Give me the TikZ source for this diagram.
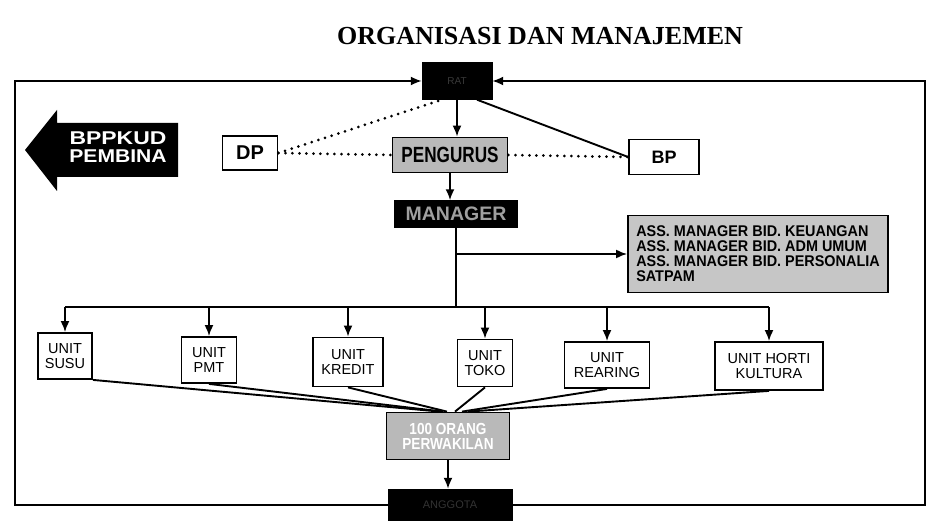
\documentclass[tikz,border=0pt]{standalone}
\usepackage{fontspec}
\setmainfont{Liberation Serif}
\setsansfont{Liberation Sans}
\usetikzlibrary{arrows.meta}
\tikzset{
  link/.style = {line width=1.9pt},
  arr/.style = {link, -{Latex[length=11pt,width=9pt]}},
  dots/.style = {line width=3pt, line cap=round, dash pattern=on 0pt off 7pt},
  unitbox/.style = {draw, line width=1.8pt, align=center, inner sep=0pt, font=\sffamily\fontsize{14.5}{15}\selectfont},
  plainbox/.style = {draw, line width=1.8pt, inner sep=0pt, font=\sffamily\bfseries\fontsize{15}{15}\selectfont},
  darkbox/.style = {fill=black, draw=black, inner sep=0pt, font=\sffamily\bfseries},
  greybox/.style = {fill=gray!55, draw=black, line width=1.8pt, inner sep=0pt, align=center, font=\sffamily\bfseries}
}
\begin{document}
\begin{tikzpicture}[x=1pt, y=-1pt]
\useasboundingbox (0,0) rectangle (928,521);
% title
\node[font=\bfseries\fontsize{26}{26}\selectfont] (title) at (540,36) {ORGANISASI DAN MANAJEMEN};
% top part
\node[darkbox, minimum width=70, minimum height=37, text=gray!45!black, font=\sffamily\fontsize{10}{10}\selectfont] (rat) at (457,81) {RAT};
\node[greybox, minimum width=115, minimum height=35] (pengurus) at (450,155) {\scalebox{0.78}[1]{\fontsize{22}{22}\selectfont PENGURUS}};
\node[darkbox, minimum width=123, minimum height=27, text=gray!75] (manager) at (456,214) {\fontsize{19.5}{19.5}\selectfont MANAGER};
\node[plainbox, minimum width=55, minimum height=34] (dp) at (250,153) {\fontsize{20}{20}\selectfont DP};
\node[plainbox, minimum width=70, minimum height=35] (bp) at (664,157) {\fontsize{18}{18}\selectfont BP};
\node[greybox, fill=gray!45, minimum width=260, minimum height=77, align=left, font=\sffamily\bfseries\fontsize{15.5}{15}\selectfont] (ass) at (758,254)
  {\scalebox{0.93}[1]{ASS. MANAGER BID. KEUANGAN}\\\scalebox{0.93}[1]{ASS. MANAGER BID. ADM UMUM}\\\scalebox{0.93}[1]{ASS. MANAGER BID. PERSONALIA}\\\scalebox{0.93}[1]{SATPAM}};
% pembina arrow
\fill (25,150) -- (57,110) -- (57,123) -- (178,123) -- (178,177) -- (57,177) -- (57,191) -- cycle;
\node[text=white, align=center, font=\sffamily\bfseries\fontsize{18.5}{18}\selectfont] (bppkud) at (118,147) {\scalebox{1.24}[1]{BPPKUD}\\\scalebox{1.14}[1]{PEMBINA}};
% units
\coordinate (bus) at (0,307);
\node[unitbox, minimum width=54, minimum height=46] (susu) at (65,356) {UNIT\\SUSU};
\node[unitbox, minimum width=55, minimum height=46] (pmt) at (209,360) {UNIT\\PMT};
\node[unitbox, minimum width=70, minimum height=49] (kredit) at (348,362) {UNIT\\KREDIT};
\node[unitbox, minimum width=55, minimum height=47] (toko) at (485,363) {UNIT\\TOKO};
\node[unitbox, minimum width=85, minimum height=46] (rearing) at (607,365) {UNIT\\REARING};
\node[unitbox, minimum width=108, minimum height=48] (horti) at (769,366) {UNIT HORTI\\KULTURA};
% bottom part
\node[greybox, minimum width=123, minimum height=47, text=white, font=\sffamily\bfseries\fontsize{16}{15}\selectfont] (perw) at (448,436) {\scalebox{0.85}[1]{100 ORANG}\\\scalebox{0.85}[1]{PERWAKILAN}};
\node[darkbox, minimum width=124, minimum height=32, text=gray!40!black, font=\sffamily\fontsize{11}{11}\selectfont] (anggota) at (450,505) {ANGGOTA};
\coordinate (frameL) at (15,290);
\coordinate (frameR) at (925,290);
% connectors
\draw[arr] (anggota.west) -| (frameL) |- (rat.west);
\draw[arr] (anggota.east) -| (frameR) |- (rat.east);
\draw[arr] (rat.south) -- (rat.south |- pengurus.north);
\draw[arr] (pengurus.south) -- (pengurus.south |- manager.north);
\draw[dots] (dp.east) -- ([xshift=-15pt]rat.south);
\draw[dots] (dp.east) -- (pengurus.west);
\draw[dots] (pengurus.east) -- (bp.west);
\draw[link] ([xshift=20pt]rat.south) -- (bp.west);
\draw[link] (manager.south) -- (manager.south |- bus);
\draw[arr] (manager.south |- ass.west) -- (ass.west);
\draw[link] (susu.north |- bus) -- (horti.north |- bus);
\draw[arr] (susu.north |- bus) -- (susu.north);
\draw[arr] (pmt.north |- bus) -- (pmt.north);
\draw[arr] (kredit.north |- bus) -- (kredit.north);
\draw[arr] (toko.north |- bus) -- (toko.north);
\draw[arr] (rearing.north |- bus) -- (rearing.north);
\draw[arr] (horti.north |- bus) -- (horti.north);
\draw[link] (susu.south east) -- ([xshift=-8pt]perw.north);
\draw[link] (pmt.south) -- ([xshift=-5pt]perw.north);
\draw[link] (kredit.south) -- ([xshift=-1pt]perw.north);
\draw[link] (toko.south) -- ([xshift=7pt]perw.north);
\draw[link] (rearing.south) -- ([xshift=14pt]perw.north);
\draw[link] (horti.south) -- ([xshift=20pt]perw.north);
\draw[arr] (perw.south) -- (perw.south |- anggota.north);
\end{tikzpicture}
\end{document}
